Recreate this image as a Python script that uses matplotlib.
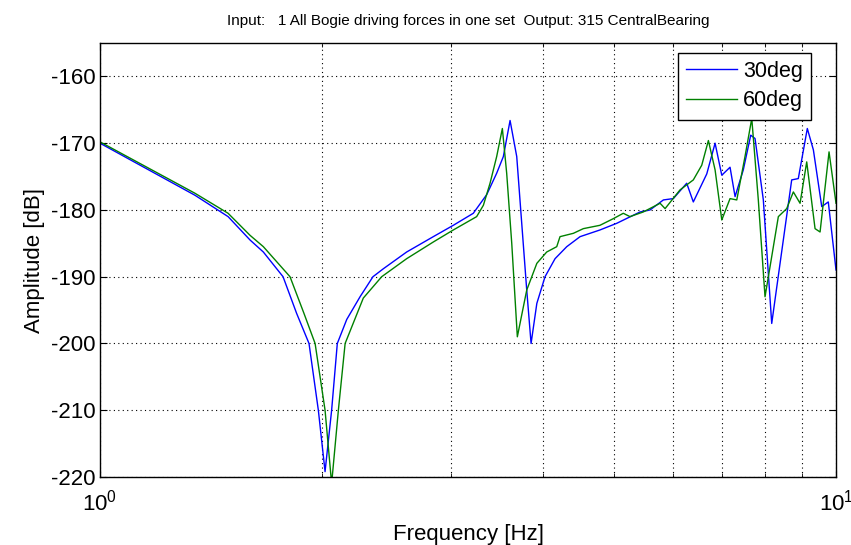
import matplotlib
matplotlib.use("Agg")
import matplotlib.pyplot as plt
from matplotlib.ticker import LogLocator, NullFormatter, MultipleLocator

# frequency [Hz] / amplitude [dB]
freq_30 = [1.000, 1.346, 1.493, 1.599, 1.667, 1.773, 1.850, 1.923, 1.980, 2.022,
           2.064, 2.101, 2.164, 2.256, 2.349, 2.427, 2.610, 2.837, 3.020, 3.215,
           3.353, 3.459, 3.532, 3.607, 3.683, 3.741, 3.800, 3.852, 3.922, 4.024,
           4.152, 4.307, 4.490, 4.778, 5.036, 5.417, 5.589, 5.827, 6.011, 6.268,
           6.399, 6.674, 6.850, 6.995, 7.178, 7.292, 7.482, 7.658, 7.762, 7.966,
           8.178, 8.394, 8.705, 8.887, 9.141, 9.316, 9.563, 9.761, 10.00]
amp_30 = [-170.0, -177.8, -181.0, -184.5, -186.3, -190.0, -195.5, -200.0, -210.0, -219.2,
          -210.0, -200.0, -196.4, -193.0, -190.0, -188.8, -186.3, -184.0, -182.3, -180.5,
          -177.7, -174.5, -172.0, -166.6, -172.0, -182.0, -192.0, -200.0, -194.0, -190.0,
          -187.3, -185.5, -184.0, -183.0, -182.0, -180.3, -180.0, -178.5, -178.3, -176.0,
          -178.8, -174.6, -170.0, -174.8, -173.6, -178.0, -174.0, -168.8, -169.3, -178.5,
          -197.0, -188.0, -175.5, -175.3, -167.8, -171.0, -179.5, -178.8, -189.0]

freq_60 = [1.000, 1.346, 1.493, 1.599, 1.667, 1.812, 1.893, 1.960, 2.022, 2.064,
           2.108, 2.153, 2.279, 2.414, 2.610, 2.837, 3.020, 3.249, 3.318, 3.388,
           3.459, 3.521, 3.569, 3.626, 3.690, 3.800, 3.922, 4.045, 4.174, 4.217,
           4.397, 4.536, 4.778, 4.983, 5.140, 5.249, 5.472, 5.767, 5.858, 6.138,
           6.399, 6.570, 6.708, 6.850, 6.995, 7.178, 7.331, 7.522, 7.683, 7.842,
           8.008, 8.135, 8.349, 8.570, 8.750, 8.936, 9.124, 9.365, 9.513, 9.784,
           10.00]
amp_60 = [-169.8, -177.5, -180.5, -183.8, -185.5, -190.0, -195.5, -200.0, -210.0, -221.0,
          -210.0, -200.0, -193.2, -190.0, -187.3, -184.8, -183.0, -181.0, -179.3, -176.0,
          -172.0, -167.8, -174.5, -185.0, -199.0, -192.0, -188.0, -186.3, -185.5, -184.0,
          -183.5, -182.8, -182.3, -181.3, -180.5, -181.0, -180.3, -179.0, -179.8, -177.0,
          -175.5, -173.3, -169.6, -174.0, -181.5, -178.3, -178.5, -172.0, -166.3, -178.5,
          -193.0, -188.5, -181.0, -179.8, -177.3, -179.0, -172.8, -182.8, -183.3, -171.3,
          -179.0]

title = "Input:   1 All Bogie driving forces in one set  Output: 315 CentralBearing"

plt.rcParams.update({
    "font.family": ["Liberation Sans", "DejaVu Sans"],
    "mathtext.fontset": "custom",
    "mathtext.rm": "Liberation Sans",
    "mathtext.it": "Liberation Sans",
    "axes.unicode_minus": False,
})

fig = plt.figure(figsize=(8.51, 5.45), dpi=100)
ax = fig.add_axes([0.1175, 0.1248, 0.8649, 0.7962])

ax.plot(freq_30, amp_30, color="#0000FF", linewidth=1.0, label="30deg")
ax.plot(freq_60, amp_60, color="#008000", linewidth=1.0, label="60deg")

ax.set_xscale("log")
ax.set_xlim(1, 10)
ax.set_ylim(-220, -155)
ax.yaxis.set_major_locator(MultipleLocator(10))
ax.xaxis.set_minor_locator(LogLocator(base=10, subs=range(2, 10)))
ax.xaxis.set_minor_formatter(NullFormatter())

ax.grid(True, which="major", color="black", linestyle=(0, (1, 3)), linewidth=0.8)
ax.grid(True, which="minor", axis="x", color="black", linestyle=(0, (1, 3)), linewidth=0.8)

ax.tick_params(which="both", direction="in", top=True, right=True, labelsize=16)
ax.tick_params(which="major", length=5)
ax.tick_params(which="minor", length=3)
ax.tick_params(axis="x", which="major", pad=9)
for s in ax.spines.values():
    s.set_linewidth(1.0)

ax.set_xlabel("Frequency [Hz]", fontsize=16, labelpad=6)
ax.set_ylabel("Amplitude [dB]", fontsize=16)
ax.set_title(title, fontsize=11, pad=13)

leg = ax.legend(loc="upper right", bbox_to_anchor=(0.966, 0.978), borderaxespad=0,
                fontsize=15.5, fancybox=False, edgecolor="black", framealpha=1,
                handlelength=2.4, handletextpad=0.25, borderpad=0.38,
                labelspacing=0.4)
leg.get_frame().set_linewidth(1.0)

fig.savefig("out.png", dpi=100)
